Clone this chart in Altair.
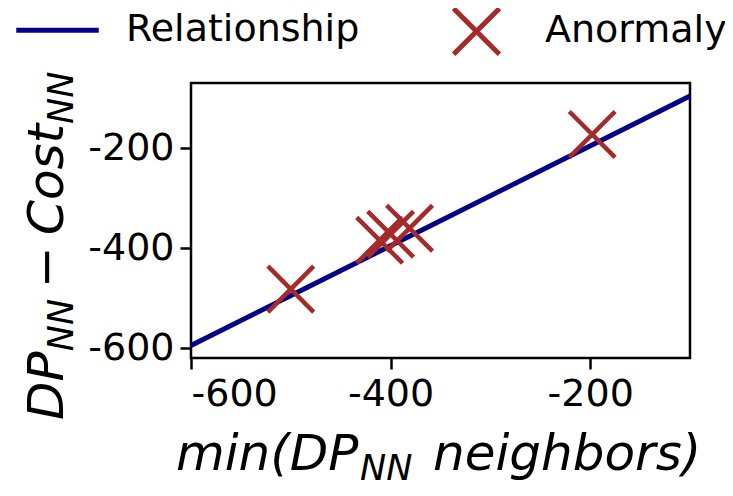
import pandas as pd
import altair as alt

# fitted relationship (two end points of the line)
rel_x = [-600, -100]
rel_y = [-595, -95]

# anomalies
anom_x = [-500, -411, -400, -381, -198]
anom_y = [-482, -384, -372, -360, -172]

series = ["Relationship", "Anormaly"]
colors = ["#00008B", "#A52A2A"]
tick_vals = [-600, -400, -200]

# legend symbols: a long stroke (with invisible height so both entries align) and an X
line_path = "M-1.8,0L1.8,0M0,-1.1L0,-1.1M0,1.1L0,1.1"
x_path = "M-1,-1L1,1M1,-1L-1,1"

rel = pd.DataFrame({"x": rel_x, "y": rel_y})
anom = pd.DataFrame({"x": anom_x, "y": anom_y, "series": "Anormaly"})

font = "DejaVu Sans"

xs = alt.Scale(domain=[-600, -100], nice=False, zero=False)
ys = alt.Scale(domain=[-620, -69], nice=False, zero=False)

xax = alt.Axis(values=tick_vals, labelExpr="toString(datum.value)", title=None,
               labelFontSize=38, labelFont=font, labelColor="black", labelPadding=6,
               tickSize=11, tickWidth=2.5, tickColor="black", domain=False, grid=False)
yax = alt.Axis(values=tick_vals, labelExpr="toString(datum.value)", title=None,
               labelFontSize=38, labelFont=font, labelColor="black", labelPadding=6,
               tickSize=11, tickWidth=2.5, tickColor="black", domain=False, grid=False)

leg = alt.Legend(title=None, orient="none", legendX=-159, legendY=-78.5, direction="horizontal",
                 labelFontSize=38, labelFont=font, labelColor="black", symbolSize=2100,
                 symbolStrokeWidth=5, labelOffset=43, columnPadding=83, padding=0,
                 labelLimit=400)

line = alt.Chart(rel).mark_line(color=colors[0], strokeWidth=5).encode(
    x=alt.X("x:Q", scale=xs, axis=xax),
    y=alt.Y("y:Q", scale=ys, axis=yax),
)

pts = alt.Chart(anom).mark_point(filled=False, size=2100, strokeWidth=4.5, opacity=1).encode(
    x=alt.X("x:Q", scale=xs),
    y=alt.Y("y:Q", scale=ys),
    color=alt.Color("series:N", scale=alt.Scale(domain=series, range=colors), legend=leg),
    shape=alt.Shape("series:N", scale=alt.Scale(domain=series, range=[line_path, x_path]), legend=leg),
)


def piece(txt, x, y, size=50, angle=0, italic=True):
    return alt.Chart(pd.DataFrame({"t": [txt]})).mark_text(
        align="left", baseline="alphabetic", font=font, fontSize=size, angle=angle,
        fontStyle="italic" if italic else "normal", color="black",
    ).encode(text="t:N", x=alt.value(x), y=alt.value(y))


# x title: min(DP_NN neighbors)
xt = [piece("min(DP", -15, 387), piece("NN", 169, 397, size=35), piece("neighbors)", 242, 387)]
# y title: DP_NN - Cost_NN (rotated)
yt = [piece("DP", -128, 337, angle=270), piece("NN", -118, 268.3, size=35, angle=270),
      piece("\u2212", -128, 205, angle=270, italic=False), piece("Cost", -128, 152, angle=270),
      piece("NN", -118, 41, size=35, angle=270)]

chart = alt.layer(line, pts, *xt, *yt).properties(
    width=499, height=275, background="white",
    autosize=alt.AutoSizeParams(type="none"),
    padding={"left": 183, "top": 75, "right": 35, "bottom": 130},
).configure_view(stroke="black", strokeWidth=2.5)

chart.save("out.html", embed_options={"renderer": "svg", "actions": False})
